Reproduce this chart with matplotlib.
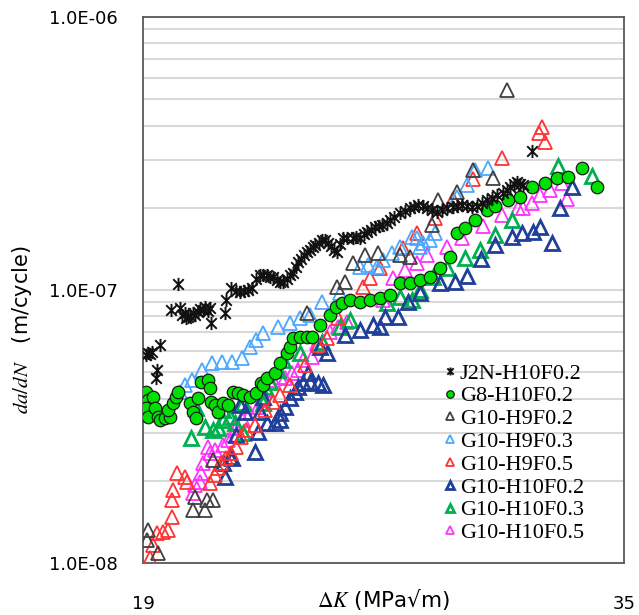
import numpy as np
import matplotlib
matplotlib.use('Agg')
import matplotlib.pyplot as plt
from matplotlib.path import Path

plt.rcParams['mathtext.fontset'] = 'stix'

# ==============================================================================
# Data
# ==============================================================================
j2n_dk = [19.10, 19.17, 19.23, 19.30, 19.57, 19.43, 19.47,
          19.93, 20.16, 20.23, 20.30, 20.40, 20.43, 20.50, 20.56, 20.66, 20.73, 20.83, 20.90, 21.00,
          21.06, 21.16, 21.23, 21.26, 21.73, 21.76, 21.93, 22.10, 22.23, 22.36, 22.49, 22.62, 22.75,
          22.89, 23.00, 23.13, 23.22, 23.32, 23.45, 23.56, 23.66, 23.80, 23.90, 23.99, 24.08, 24.16,
          24.26, 24.36, 24.46, 24.55, 24.64, 24.72, 24.85, 24.95, 25.05, 25.15, 25.25, 25.35, 25.45,
          25.55, 25.65, 25.80, 25.99, 26.10, 26.22, 26.35, 26.45, 26.58, 26.72, 26.85, 26.95, 27.10,
          27.22, 27.35, 27.55, 27.70, 27.88, 28.00, 28.15, 28.30, 28.45, 28.60, 28.78, 28.95, 29.11,
          29.30, 29.45, 29.60, 29.78, 29.95, 30.11, 30.28, 30.44, 30.60, 30.78, 30.98, 31.10, 31.21,
          31.35, 31.44, 31.55, 31.64, 31.94]
j2n_dadn = [5.78e-8, 5.90e-8, 5.85e-8, 5.95e-8, 6.29e-8, 4.76e-8, 5.10e-8,
            8.45e-8, 1.05e-7, 8.59e-8, 8.10e-8, 8.24e-8, 7.89e-8, 7.95e-8, 8.05e-8, 8.24e-8, 8.10e-8, 8.30e-8, 8.50e-8, 8.45e-8,
            8.66e-8, 8.40e-8, 8.59e-8, 7.57e-8, 8.24e-8, 9.19e-8, 1.02e-7, 9.90e-8, 9.84e-8, 9.95e-8, 1.00e-7, 1.02e-7, 1.10e-7,
            1.135e-7, 1.13e-7, 1.135e-7, 1.12e-7, 1.116e-7, 1.09e-7, 1.07e-7, 1.07e-7, 1.10e-7, 1.13e-7, 1.154e-7, 1.21e-7, 1.266e-7,
            1.30e-7, 1.34e-7, 1.378e-7, 1.40e-7, 1.44e-7, 1.46e-7, 1.49e-7, 1.525e-7, 1.52e-7, 1.486e-7, 1.45e-7, 1.40e-7, 1.378e-7,
            1.47e-7, 1.55e-7, 1.55e-7, 1.55e-7, 1.56e-7, 1.55e-7, 1.60e-7, 1.63e-7, 1.66e-7, 1.70e-7, 1.71e-7, 1.73e-7, 1.76e-7,
            1.80e-7, 1.85e-7, 1.91e-7, 1.95e-7, 2.00e-7, 2.02e-7, 2.05e-7, 2.03e-7, 2.00e-7, 1.96e-7, 1.93e-7, 1.97e-7, 2.00e-7,
            2.02e-7, 2.03e-7, 2.04e-7, 2.03e-7, 2.02e-7, 2.03e-7, 2.08e-7, 2.14e-7, 2.18e-7, 2.23e-7, 2.27e-7, 2.32e-7, 2.38e-7,
            2.44e-7, 2.49e-7, 2.45e-7, 2.42e-7, 3.23e-7]

g8_dk = [19.10, 19.17, 19.10, 19.17, 19.33, 19.40, 19.50, 19.57, 19.73, 19.90, 19.83, 20.00, 20.10, 20.16,
         20.56, 20.66, 20.76, 20.83, 20.93, 21.16, 21.23, 21.26, 21.40, 21.50, 21.66, 21.83, 21.99, 22.16,
         22.33, 22.56, 22.76, 22.93, 22.99, 23.13, 23.39, 23.56, 23.79, 23.89, 23.99, 24.22, 24.46, 24.62,
         24.89, 25.22, 25.42, 25.62, 25.89, 26.22, 26.55, 26.88, 27.22, 27.55, 27.88, 28.21, 28.55, 28.88,
         29.21, 29.45, 29.71, 30.04, 30.44, 30.71, 31.14, 31.54, 31.94, 32.37, 32.77, 33.14, 33.60, 34.10]
g8_dadn = [4.23e-8, 3.95e-8, 3.70e-8, 3.43e-8, 4.06e-8, 3.70e-8, 3.43e-8, 3.34e-8, 3.40e-8, 3.43e-8, 3.63e-8, 3.86e-8, 4.06e-8, 4.23e-8,
           3.86e-8, 3.57e-8, 3.40e-8, 4.02e-8, 4.60e-8, 4.68e-8, 4.38e-8, 3.89e-8, 3.79e-8, 3.57e-8, 3.86e-8, 3.79e-8, 4.23e-8, 4.19e-8,
           4.12e-8, 4.06e-8, 4.19e-8, 4.56e-8, 4.49e-8, 4.76e-8, 4.97e-8, 5.40e-8, 5.88e-8, 6.18e-8, 6.67e-8, 6.73e-8, 6.73e-8, 6.73e-8,
           7.44e-8, 8.10e-8, 8.66e-8, 8.96e-8, 9.18e-8, 9.04e-8, 9.18e-8, 9.35e-8, 9.59e-8, 1.061e-7, 1.061e-7, 1.088e-7, 1.116e-7, 1.204e-7,
           1.32e-7, 1.62e-7, 1.69e-7, 1.80e-7, 1.96e-7, 2.03e-7, 2.14e-7, 2.19e-7, 2.38e-7, 2.47e-7, 2.57e-7, 2.59e-7, 2.80e-7, 2.38e-7]

h9f02_dk = [19.50, 19.13, 19.16, 20.66, 21.06, 21.13, 21.33, 20.73, 21.33, 24.46, 25.45, 25.72, 25.99,
            26.39, 26.82, 27.55, 27.88, 28.61, 28.81, 29.45, 29.98, 30.64, 31.11]
h9f02_dadn = [1.088e-8, 1.214e-8, 1.32e-8, 1.56e-8, 1.56e-8, 1.70e-8, 1.70e-8, 1.745e-8, 2.38e-8, 8.24e-8, 1.025e-7, 1.07e-7, 1.256e-7,
              1.343e-7, 1.366e-7, 1.343e-7, 1.32e-7, 1.73e-7, 2.14e-7, 2.29e-7, 2.75e-7, 2.57e-7, 5.40e-7]

h9f03_dk = [20.23, 20.40, 20.63, 20.96, 21.30, 21.63, 21.96, 22.29, 22.56, 22.76, 22.99, 23.49, 23.89, 24.22,
            24.56, 24.95, 25.55, 26.22, 26.49, 26.78, 26.98, 27.28, 27.55, 27.95, 28.11, 28.21, 28.31, 28.55,
            28.71, 29.45, 29.78, 30.04, 30.48]
h9f03_dadn = [4.23e-8, 4.49e-8, 4.68e-8, 5.09e-8, 5.40e-8, 5.45e-8, 5.45e-8, 5.63e-8, 6.18e-8, 6.56e-8, 6.96e-8, 7.32e-8, 7.57e-8, 7.89e-8,
              8.10e-8, 9.04e-8, 9.75e-8, 1.214e-7, 1.235e-7, 1.214e-7, 1.288e-7, 1.366e-7, 1.437e-7, 1.56e-7, 1.55e-7, 1.437e-7, 1.486e-7, 1.525e-7,
              1.62e-7, 2.19e-7, 2.42e-7, 2.75e-7, 2.80e-7]

h9f05_dk = [19.23, 19.33, 19.47, 19.67, 19.83, 19.96, 19.96, 20.00, 20.13, 20.40, 20.46, 21.23, 21.40, 21.50,
            21.59, 21.76, 21.93, 22.09, 22.26, 22.43, 22.73, 23.06, 23.32, 23.56, 23.89, 24.39, 24.82, 25.12,
            25.49, 26.32, 26.55, 26.88, 27.65, 28.11, 28.71, 29.31, 29.98, 30.94, 32.27, 32.17, 32.37]
h9f05_dadn = [1.043e-8, 1.164e-8, 1.288e-8, 1.30e-8, 1.32e-8, 1.474e-8, 1.70e-8, 1.85e-8, 2.14e-8, 2.07e-8, 1.98e-8, 1.96e-8, 2.10e-8, 2.23e-8,
              2.32e-8, 2.42e-8, 2.53e-8, 2.66e-8, 2.89e-8, 3.07e-8, 3.20e-8, 3.63e-8, 3.89e-8, 4.12e-8, 4.49e-8, 5.31e-8, 6.29e-8, 6.67e-8,
              7.89e-8, 1.025e-7, 1.106e-7, 1.204e-7, 1.425e-7, 1.62e-7, 1.835e-7, 2.15e-7, 2.55e-7, 3.04e-7, 3.95e-7, 3.76e-7, 3.48e-7]

h10f02_dk = [21.66, 21.73, 21.89, 21.96, 22.09, 22.23, 22.39, 22.73, 22.83, 22.89, 22.99, 23.13, 23.39, 23.56,
             23.56, 23.72, 23.89, 24.06, 24.16, 24.32, 24.56, 24.82, 24.99, 24.49, 24.89, 25.12, 25.72, 26.22,
             26.65, 26.88, 27.05, 27.48, 27.82, 28.21, 28.88, 29.38, 29.78, 30.24, 30.71, 31.28, 31.61, 31.97,
             32.21, 32.61, 32.87, 33.27]
h10f02_dadn = [2.32e-8, 2.07e-8, 2.45e-8, 2.42e-8, 2.94e-8, 3.79e-8, 3.57e-8, 2.55e-8, 3.02e-8, 3.57e-8, 4.06e-8, 3.26e-8, 3.26e-8, 3.34e-8,
               3.54e-8, 3.73e-8, 4.02e-8, 4.23e-8, 4.41e-8, 4.56e-8, 4.60e-8, 4.56e-8, 4.49e-8, 4.97e-8, 6.18e-8, 5.88e-8, 6.84e-8, 7.13e-8,
               7.44e-8, 7.32e-8, 7.96e-8, 7.96e-8, 9.04e-8, 9.75e-8, 1.061e-7, 1.07e-7, 1.125e-7, 1.30e-7, 1.46e-7, 1.56e-7, 1.62e-7, 1.63e-7,
               1.70e-7, 1.486e-7, 2.00e-7, 2.38e-7]

h10f03_dk = [20.60, 20.76, 21.06, 21.33, 21.50, 21.66, 21.89, 22.06, 22.33, 21.66, 22.33, 22.89, 22.99, 23.06,
             23.22, 23.49, 23.66, 24.22, 24.95, 25.55, 25.89, 27.12, 27.55, 27.95, 28.21, 28.65, 29.11, 29.71,
             30.21, 30.71, 31.28, 32.81, 33.94]
h10f03_dadn = [2.87e-8, 3.70e-8, 3.15e-8, 3.07e-8, 3.12e-8, 3.34e-8, 3.43e-8, 3.26e-8, 2.99e-8, 3.63e-8, 3.86e-8, 4.41e-8, 3.86e-8, 4.41e-8,
               4.60e-8, 5.09e-8, 5.54e-8, 5.88e-8, 6.45e-8, 7.32e-8, 7.76e-8, 8.96e-8, 9.43e-8, 9.18e-8, 1.00e-7, 1.116e-7, 1.204e-7, 1.31e-7,
               1.40e-7, 1.59e-7, 1.80e-7, 2.84e-7, 2.61e-7]

h10f05_dk = [20.66, 20.73, 20.90, 20.93, 21.00, 21.16, 21.23, 21.40, 21.66, 21.83, 21.99, 22.09, 22.33, 22.56,
             22.83, 22.99, 23.13, 23.32, 23.56, 23.72, 23.96, 24.16, 24.32, 24.62, 24.79, 25.22, 25.49, 25.79,
             26.98, 27.32, 27.72, 28.11, 28.45, 29.11, 29.61, 30.31, 30.94, 31.47, 31.64, 31.94, 32.21, 32.54,
             32.94, 33.10]
h10f05_dadn = [1.80e-8, 1.93e-8, 1.98e-8, 2.14e-8, 2.32e-8, 2.66e-8, 2.53e-8, 2.59e-8, 2.70e-8, 2.82e-8, 2.94e-8, 3.12e-8, 3.34e-8, 3.54e-8,
               3.73e-8, 3.95e-8, 4.30e-8, 4.68e-8, 4.80e-8, 4.76e-8, 4.97e-8, 5.09e-8, 5.53e-8, 5.68e-8, 6.40e-8, 7.02e-8, 7.32e-8, 7.63e-8,
               9.18e-8, 1.106e-7, 1.18e-7, 1.256e-7, 1.343e-7, 1.437e-7, 1.55e-7, 1.715e-7, 1.88e-7, 2.00e-7, 2.00e-7, 2.08e-7, 2.23e-7, 2.32e-7,
               2.47e-7, 2.15e-7]

# Excel-like star marker: an X with a vertical bar through it
star = Path([(0, -1), (0, 1), (-0.8, -0.8), (0.8, 0.8), (-0.8, 0.8), (0.8, -0.8)],
            [Path.MOVETO, Path.LINETO, Path.MOVETO, Path.LINETO, Path.MOVETO, Path.LINETO])

# ==============================================================================
# Plot
# ==============================================================================
fig = plt.figure(figsize=(6.39, 6.15), dpi=100)
ax = fig.add_axes([0.2238, 0.0846, 0.7527, 0.8878])

tri = dict(marker='^', linestyle='none', markerfacecolor='none', markersize=9.5)

ax.plot(h10f05_dk, h10f05_dadn, color='#FF33FF', markeredgewidth=1.3, label='G10-H10F0.5', zorder=3, **tri)
ax.plot(h10f03_dk, h10f03_dadn, color='#00B050', markeredgewidth=2.0, label='G10-H10F0.3', zorder=3, **tri)
ax.plot(h10f02_dk, h10f02_dadn, color='#1F3F99', markeredgewidth=2.0, label='G10-H10F0.2', zorder=3, **tri)
ax.plot(h9f05_dk, h9f05_dadn, color='#FF3333', markeredgewidth=1.3, label='G10-H9F0.5', zorder=3, **tri)
ax.plot(h9f03_dk, h9f03_dadn, color='#4AA8FF', markeredgewidth=1.3, label='G10-H9F0.3', zorder=3, **tri)
ax.plot(h9f02_dk, h9f02_dadn, color='#404040', markeredgewidth=1.3, label='G10-H9F0.2', zorder=3, **tri)
ax.plot(g8_dk, g8_dadn, marker='o', linestyle='none', markersize=9, markerfacecolor='#00E000',
        markeredgecolor='#1a1a1a', markeredgewidth=0.9, label='G8-H10F0.2', zorder=4)
ax.plot(j2n_dk, j2n_dadn, marker=star, linestyle='none', markersize=9.5, color='#111111',
        markeredgewidth=1.4, label='J2N-H10F0.2', zorder=5)

# Axes
ax.set_yscale('log')
ax.set_xlim(19, 35)
ax.set_ylim(1e-8, 1e-6)
ax.set_xticks([19, 35])
ax.set_xticklabels(['19', '35'], fontsize=13)
ax.set_yticks([1e-8, 1e-7, 1e-6])
ax.set_yticklabels(['1.0E-08', '1.0E-07', '1.0E-06'], fontsize=13)
ax.yaxis.set_minor_locator(matplotlib.ticker.LogLocator(base=10, subs=np.arange(2, 10)))
ax.yaxis.set_minor_formatter(matplotlib.ticker.NullFormatter())
ax.tick_params(axis='both', which='both', length=0)
ax.tick_params(axis='y', pad=18)
ax.tick_params(axis='x', pad=23)
ax.grid(True, axis='y', which='both', color='#D9D9D9', linewidth=1.5)
ax.set_axisbelow(True)
for s in ax.spines.values():
    s.set_color('#595959')
    s.set_linewidth(1.3)

# Labels
fig.text(383 / 639, 1 - 600 / 615, r'$\Delta K$ (MPa√m)', fontsize=15.5, ha='center', va='center')
fig.text(22 / 639, 1 - 330 / 615, r'$da/dN$   (m/cycle)', fontsize=15, ha='center', va='center',
         rotation=90)

# Legend
handles, labels = ax.get_legend_handles_labels()
handles = handles[::-1]
labels = labels[::-1]
leg = ax.legend(handles, labels, loc='upper left', bbox_to_anchor=(432 / 639, 1 - 352 / 615),
                bbox_transform=fig.transFigure, frameon=False, markerscale=0.6,
                handlelength=0.6, handletextpad=0.15, labelspacing=0.1, borderpad=0,
                prop={'family': 'Liberation Serif', 'size': 16})

plt.savefig('out.png', dpi=100)
